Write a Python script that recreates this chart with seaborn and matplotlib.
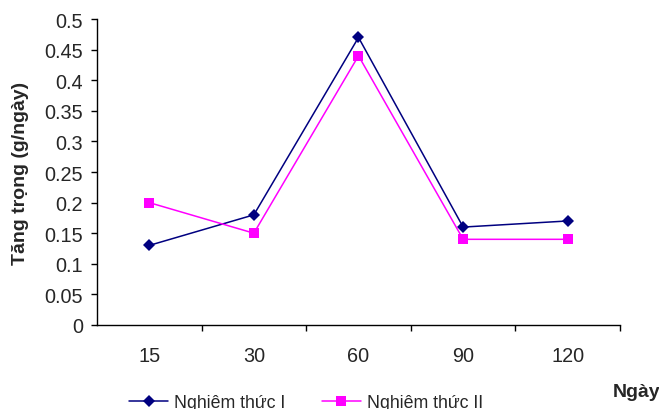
import matplotlib
matplotlib.use("Agg")
import matplotlib.pyplot as plt
import seaborn as sns
import pandas as pd
from matplotlib.ticker import FixedLocator
from matplotlib.lines import Line2D

days = ["15", "30", "60", "90", "120"]
nt1 = [0.13, 0.18, 0.47, 0.16, 0.17]
nt2 = [0.20, 0.15, 0.44, 0.14, 0.14]
series_names = ["Nghiêm thức I", "Nghiêm thức II"]
yticks = [0, 0.05, 0.1, 0.15, 0.2, 0.25, 0.3, 0.35, 0.4, 0.45, 0.5]
ytick_labels = ["0", "0.05", "0.1", "0.15", "0.2", "0.25", "0.3", "0.35", "0.4", "0.45", "0.5"]

df = pd.DataFrame({
    "Ngày": days * 2,
    "val": nt1 + nt2,
    "series": [series_names[0]] * len(days) + [series_names[1]] * len(days),
})

sns.set_theme(style="white")
plt.rcParams["font.family"] = ["Liberation Sans", "DejaVu Sans"]

FS = 14.3
LFS = 12.8

fig = plt.figure(figsize=(6.59, 4.10), dpi=100)
ax = fig.add_axes([0.147, 0.205, 0.794, 0.746])

colors = {series_names[0]: "#000080", series_names[1]: "#FF00FF"}
markers = {series_names[0]: "D", series_names[1]: "s"}
sizes = {series_names[0]: 6.5, series_names[1]: 6.5}
for name in series_names:
    sub = df[df["series"] == name]
    sns.lineplot(data=sub, x="Ngày", y="val", ax=ax, color=colors[name],
                 marker=markers[name], markersize=sizes[name], markeredgewidth=0,
                 linewidth=1.1, sort=False, legend=False)

ax.set_xlim(-0.5, len(days) - 0.5)
ax.set_ylim(0, 0.5)
ax.set_yticks(yticks)
ax.set_yticklabels(ytick_labels, fontsize=FS)
ax.set_xticks(range(len(days)))
ax.set_xticklabels(days, fontsize=FS)
ax.tick_params(axis="x", which="major", length=0, pad=15.5)
ax.xaxis.set_minor_locator(FixedLocator([i + 0.5 for i in range(len(days))]))
ax.tick_params(axis="x", which="minor", bottom=True, length=4.5, width=1, color="black", direction="out")
ax.tick_params(axis="y", which="major", left=True, length=4.5, width=1, color="black", direction="out", pad=5.5)

for s in ["top", "right"]:
    ax.spines[s].set_visible(False)
for s in ["left", "bottom"]:
    ax.spines[s].set_color("black")
    ax.spines[s].set_linewidth(1)

ax.set_xlabel("")
ax.set_ylabel("Tăng trọng (g/ngày)", fontsize=14, fontweight="bold")
ax.yaxis.set_label_coords(-0.13, 0.5)
fig.text(613 / 659, 1 - 397 / 410, "Ngày", fontsize=14, fontweight="bold", ha="left", va="baseline")

handles = [Line2D([0], [0], color=colors[n], marker=markers[n], markersize=sizes[n],
                  markeredgewidth=0, linewidth=1.1) for n in series_names]
fig.legend(handles, series_names, loc="center left", bbox_to_anchor=(129 / 659, 1 - 404 / 410), ncol=2,
           frameon=False, fontsize=LFS, handlelength=2.2, columnspacing=2.05, handletextpad=0.34,
           borderpad=0, borderaxespad=0)

fig.savefig("out.png", dpi=100)
